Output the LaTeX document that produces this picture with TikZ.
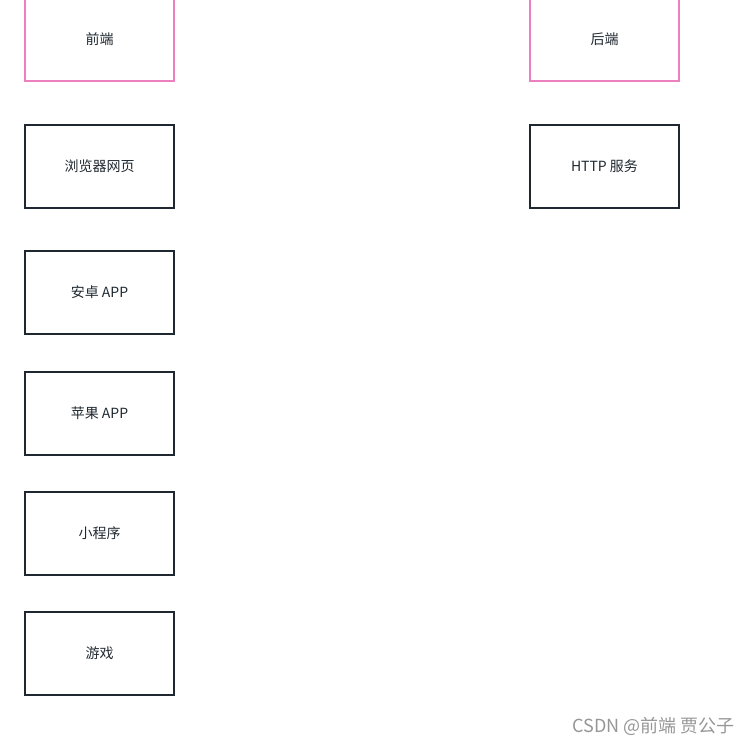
\documentclass[tikz,border=0pt]{standalone}
\usepackage{fontspec}
\setmainfont{Noto Sans CJK SC}
\definecolor{pinkline}{RGB}{236,128,190}
\definecolor{darkline}{RGB}{31,40,48}
\definecolor{wmgray}{RGB}{150,150,150}
\begin{document}
\begin{tikzpicture}[x=0.75pt,y=-0.75pt,
  boxstyle/.style={draw=darkline,line width=1.5pt,minimum width=149*0.75pt,minimum height=83*0.75pt,inner sep=0pt,font=\fontsize{10.5}{12}\selectfont,text=darkline},
  headbox/.style={boxstyle,draw=pinkline}]
\useasboundingbox (0,0) rectangle (750,747);
\clip (0,0) rectangle (750,747);
\node[headbox] (fe) at (99.5,39.5) {\raisebox{-1pt}{前端}};
\node[headbox] (be) at (604.5,39.5) {\raisebox{-1pt}{后端}};
\node[boxstyle] (web) at (99.5,166) {\raisebox{-1pt}{浏览器网页}};
\node[boxstyle] (http) at (604.5,166) {\raisebox{-1pt}{HTTP 服务}};
\node[boxstyle] (android) at (99.5,292.5) {\raisebox{-1pt}{安卓 APP}};
\node[boxstyle] (ios) at (99.5,413) {\raisebox{-1pt}{苹果 APP}};
\node[boxstyle] (mini) at (99.5,533) {\raisebox{-1pt}{小程序}};
\node[boxstyle] (game) at (99.5,653) {\raisebox{-1pt}{游戏}};
\node[anchor=east,text=wmgray,font=\fontsize{13.5}{15}\selectfont,inner sep=0pt] (wm) at (735,726) {CSDN @前端 贾公子};
\end{tikzpicture}
\end{document}
